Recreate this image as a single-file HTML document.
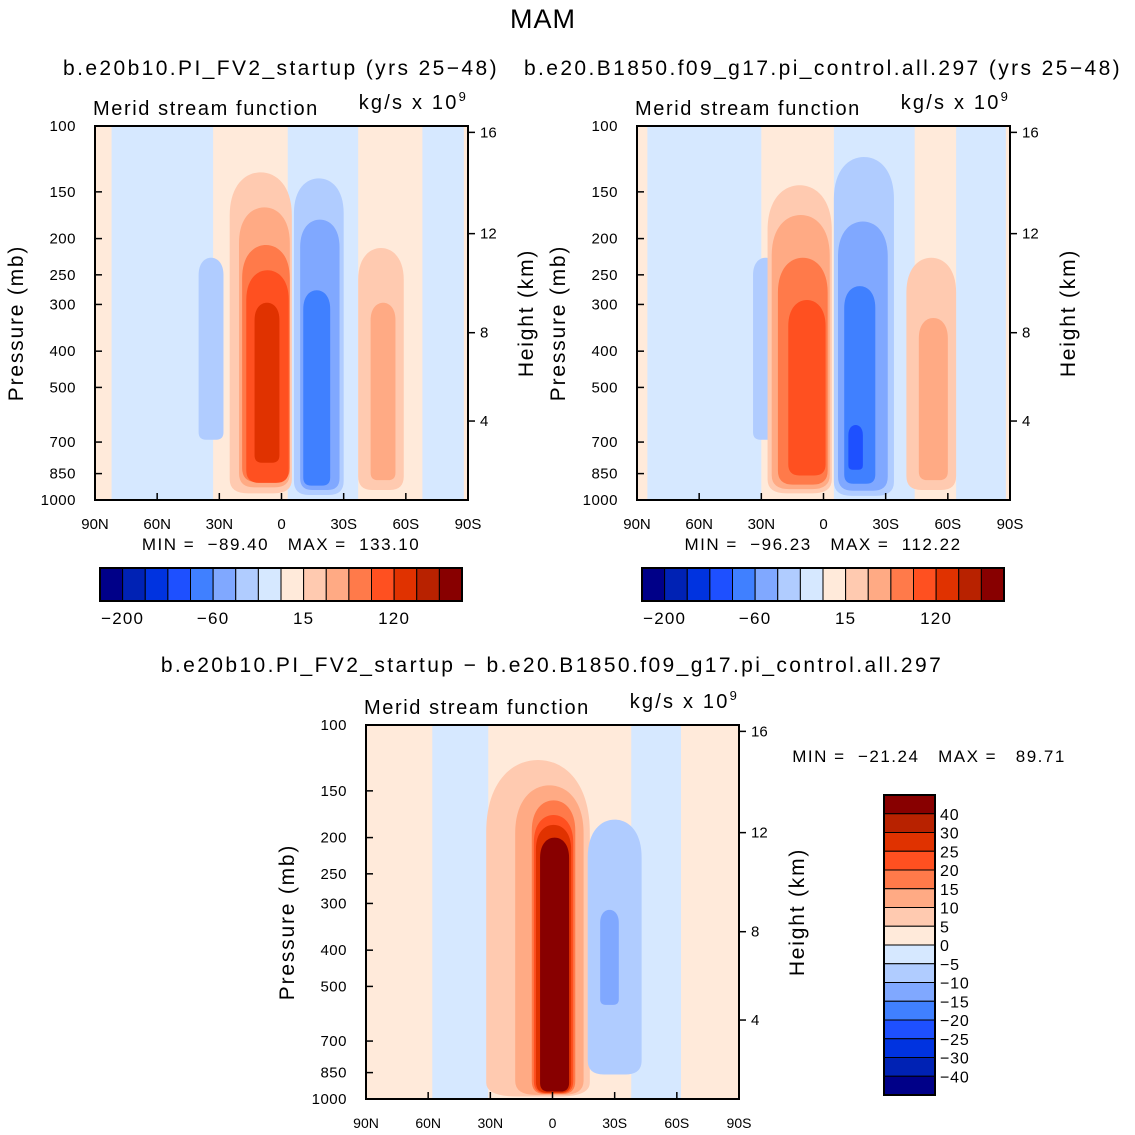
<!DOCTYPE html>
<html><head><meta charset="utf-8"><style>
html,body{margin:0;padding:0;background:#fff;width:1135px;height:1135px;overflow:hidden;}
svg{display:block;font-family:"Liberation Sans",sans-serif;}
</style></head><body>
<svg id="chart" width="1135" height="1135" viewBox="0 0 1135 1135">
<text x="543" y="28" font-size="27" text-anchor="middle" letter-spacing="1">MAM</text>
<text x="281" y="75" font-size="21" text-anchor="middle" letter-spacing="2.4">b.e20b10.PI_FV2_startup (yrs 25−48)</text>
<text x="823" y="75" font-size="21" text-anchor="middle" letter-spacing="2.4">b.e20.B1850.f09_g17.pi_control.all.297 (yrs 25−48)</text>
<text x="552" y="672" font-size="21" text-anchor="middle" letter-spacing="2.4">b.e20b10.PI_FV2_startup − b.e20.B1850.f09_g17.pi_control.all.297</text>
<g id="panels"></g>
</svg>
<script>
const colors=["#000088","#0022b4","#0033e0","#1e50ff","#4080ff","#80a8ff","#b0ccff","#d6e8ff","#ffeada","#ffcab0","#ffaa84","#ff7a4a","#ff5020","#e03200","#b82200","#880000"];
// blobs: [lat north edge, lat south edge, pTop, pBottom, colour level]
const panel1Blobs=[[82,33,100,990,7],[-3,-37,100,1000,7],[-68,-88,100,990,7],
 [40,28,225,690,6],
 [25,-5,133,960,9],[20.5,-4,165,925,10],[19,-4,208,895,11],[17,-3.5,243,900,12],[13,1,297,795,13],
 [-6,-30,138,970,6],[-9,-28,178,940,5],[-10.5,-23.5,275,915,4],
 [-37,-59,212,940,9],[-43,-55,297,885,10]];
const panel2Blobs=[[85,30,100,990,7],[-5,-44,100,1000,7],[-64,-88,100,990,7],
 [34,22,225,690,6],
 [27,-4,144,960,9],[25,-3,173,935,10],[22,-2,225,910,11],[17,-1,292,860,12],
 [-5,-34,121,975,6],[-7,-31,180,945,5],[-10,-25,268,905,4],[-12,-19,630,830,3],
 [-40,-64,225,940,9],[-46,-60,326,885,10]];
const panel3Blobs=[[58,31,100,1000,7],[-38,-62,100,1000,7],
 [32,-18,124,985,9],[18,-15,145,975,10],[10,-11,159,970,11],[9,-10,174,965,12],[8,-9,185,962,13],[6,-8,200,955,15],
 [-17,-43,179,860,6],[-23,-32,312,560,5]];
const pTicks=[100,150,200,250,300,400,500,700,850,1000];
const latTicks=[90,60,30,0,-30,-60,-90];
const latLabels=["90N","60N","30N","0","30S","60S","90S"];
const hTicks=[16,12,8,4];
const hTickP=[104,194,357,615];
const barLabelsH=["−200","−60","15","120"];
const barLabelIdx=[1,5,9,13];
const barLabelsV=["40","30","25","20","15","10","5","0","−5","−10","−15","−20","−25","−30","−40"];
const NS="http://www.w3.org/2000/svg";
const root=document.getElementById('panels');
function mk(tag,attrs,parent,text){const e=document.createElementNS(NS,tag);for(const k in attrs)e.setAttribute(k,attrs[k]);if(text!==undefined)e.textContent=text;(parent||root).appendChild(e);return e;}
function panel(id,x0,y0,blobs,minmax,mmX,mmY,latSize){
 const W=373,H=374;
 const X=lat=>x0+(90-lat)/180*W;
 const Y=p=>y0+(Math.log10(p)-2)*H;
 const g=mk('g',{});
 
 
 const cp=mk('clipPath',{id:id+'-clip'},g);mk('rect',{x:x0,y:y0,width:W,height:H},cp);
 const pl=mk('g',{'clip-path':'url(#'+id+'-clip)'},g);
 const bg=mk('rect',{x:x0,y:y0,width:W,height:H,fill:colors[8]},pl);
 
 
 blobs.forEach(b=>{const x1=X(b[0]),x2=X(b[1]);
  const y1=b[2]<=100?Y(40):Y(b[2]);const y2=b[3]>=990?Y(2500):Y(b[3]);
  const w=x2-x1,h=y2-y1;
  const rt=Math.min(w*0.7,h*0.3),rb=Math.min(w*0.3,h*0.1,14);
  const d=`M${x1},${y2-rb} L${x1},${y1+rt} C${x1},${y1+rt*0.3} ${x1+w*0.25},${y1} ${x1+w/2},${y1} C${x2-w*0.25},${y1} ${x2},${y1+rt*0.3} ${x2},${y1+rt} L${x2},${y2-rb} Q${x2},${y2} ${x2-w*0.3},${y2} L${x1+w*0.3},${y2} Q${x1},${y2} ${x1},${y2-rb} Z`;
  const r=mk('path',{d:d,fill:colors[b[4]]},pl);
  
  });
 mk('rect',{x:x0,y:y0,width:W,height:H,fill:'none',stroke:'#000','stroke-width':2},g);
 pTicks.forEach(p=>{const y=Y(p);mk('line',{x1:x0,x2:x0+7,y1:y,y2:y,stroke:'#000','stroke-width':1.5},g);
  const t=mk('text',{x:x0-19,y:y+5,'font-size':15,'text-anchor':'end','letter-spacing':0.5},g,p);
  
  });
 latTicks.forEach((l,i)=>{const x=X(l);mk('line',{x1:x,x2:x,y1:y0+H,y2:y0+H-7,stroke:'#000','stroke-width':1.5},g);
  const t=mk('text',{x:x,y:y0+H+29,'font-size':latSize,'text-anchor':'middle'},g,latLabels[i]);
  
  });
 hTicks.forEach((h,i)=>{const y=Y(hTickP[i]);mk('line',{x1:x0+W,x2:x0+W+7,y1:y,y2:y,stroke:'#000','stroke-width':1.5},g);
  const t=mk('text',{x:x0+W+12,y:y+5,'font-size':15},g,h);
  
  });
 let t=mk('text',{x:x0-2,y:y0-11,'font-size':20,'letter-spacing':1.6},g,'Merid stream function');
 
 
 t=mk('text',{x:x0+W,y:y0-17,'font-size':20,'text-anchor':'end','letter-spacing':2.2},g);
 t.innerHTML='kg/s x 10<tspan font-size="13" dy="-8">9</tspan>';
 
 
 t=mk('text',{x:0,y:0,'font-size':21,'text-anchor':'middle','letter-spacing':1.8,transform:`translate(${x0-72},${y0+H/2+10}) rotate(-90)`},g,'Pressure (mb)');
 
 
 t=mk('text',{x:0,y:0,'font-size':21,'text-anchor':'middle','letter-spacing':1.8,transform:`translate(${x0+W+65},${y0+H/2}) rotate(-90)`},g,'Height (km)');
 
 
 t=mk('text',{x:mmX,y:mmY,'font-size':17,'text-anchor':'middle','letter-spacing':1.5},g,minmax);
 t.style.whiteSpace='pre';
 
 
}
function hbar(id,x0,y0){const w=362/16;const g=mk('g',{});
 
 
 colors.forEach((c,i)=>{const r=mk('rect',{x:x0+i*w,y:y0,width:w,height:33,fill:c,stroke:'#000','stroke-width':1},g);
  
  });
 mk('rect',{x:x0,y:y0,width:362,height:33,fill:'none',stroke:'#000','stroke-width':2},g);
 barLabelsH.forEach((l,i)=>{const t=mk('text',{x:x0+barLabelIdx[i]*w,y:y0+56,'font-size':17,'text-anchor':'middle','letter-spacing':1.2},g,l);
  
  });}
function vbar(id,x0,y0){const h=300/16;const g=mk('g',{});
 
 
 colors.slice().reverse().forEach((c,i)=>{const r=mk('rect',{x:x0,y:y0+i*h,width:51,height:h,fill:c,stroke:'#000','stroke-width':1},g);
  
  });
 mk('rect',{x:x0,y:y0,width:51,height:300,fill:'none',stroke:'#000','stroke-width':2},g);
 barLabelsV.forEach((l,i)=>{const t=mk('text',{x:x0+56,y:y0+(i+1)*h+6,'font-size':16,'letter-spacing':0.8},g,l);
  
  });}
panel('panel1',95,126,panel1Blobs,'MIN =  −89.40   MAX =  133.10',281,550,15);
panel('panel2',637,126,panel2Blobs,'MIN =  −96.23   MAX =  112.22',823,550,15);
panel('panel3',366,725,panel3Blobs,'MIN =  −21.24   MAX =   89.71',929,762,14);
hbar('colorbar-panel1',100,568);
hbar('colorbar-panel2',642,568);
vbar('colorbar-diff',884,795);
</script>
</body></html>
